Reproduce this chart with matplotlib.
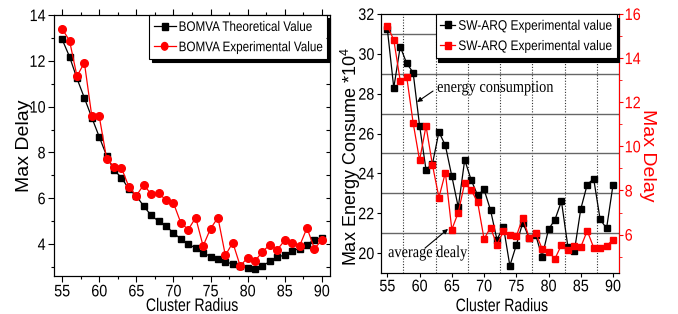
import matplotlib
matplotlib.use('Agg')
import matplotlib.pyplot as plt
from matplotlib.ticker import MultipleLocator, FixedLocator
from matplotlib.patheffects import AbstractPathEffect
from matplotlib.transforms import Affine2D
from matplotlib.text import Text
from matplotlib.lines import Line2D
from matplotlib.patches import Patch

plt.rcParams['font.family'] = ['Liberation Sans', 'DejaVu Sans']
plt.rcParams['mathtext.fontset'] = 'custom'
plt.rcParams['mathtext.rm'] = 'Liberation Sans'

radius = list(range(55, 91))

# left panel
theory = [12.94, 12.18, 11.23, 10.38, 9.52, 8.68, 7.85, 7.22, 6.90, 6.39,
          6.10, 5.65, 5.25, 4.99, 4.79, 4.48, 4.22, 4.00, 3.81, 3.62,
          3.45, 3.34, 3.20, 3.14, 3.04, 2.94, 2.92, 3.04, 3.24, 3.42,
          3.52, 3.69, 3.80, 3.97, 4.19, 4.28]
experiment = [13.40, 12.88, 11.33, 11.92, 9.58, 9.58, 7.72, 7.37, 7.32, 6.49,
              6.11, 6.59, 6.17, 6.23, 5.91, 5.79, 4.92, 4.63, 5.15, 3.91,
              4.67, 5.15, 3.50, 4.06, 3.04, 3.40, 3.26, 3.66, 3.97, 3.75,
              4.16, 4.06, 3.91, 4.70, 3.80, 4.16]

# right panel
energy = [31.24, 28.29, 30.36, 29.52, 29.06, 26.39, 24.18, 24.48, 26.08, 25.40,
          23.86, 22.30, 24.68, 23.67, 22.90, 23.19, 22.16, 20.67, 21.33, 19.36,
          20.40, 21.53, 20.75, 20.91, 19.82, 21.19, 21.68, 22.60, 20.32, 20.08,
          22.21, 23.44, 23.73, 21.69, 21.24, 23.42]
delay = [15.46, 14.82, 12.97, 13.16, 11.07, 9.37, 10.92, 9.15, 7.68, 8.81,
         6.23, 7.00, 8.34, 8.01, 7.48, 5.80, 6.32, 5.53, 6.15, 5.97,
         5.92, 6.77, 5.85, 6.08, 5.36, 5.21, 4.91, 5.53, 5.32, 5.49,
         5.44, 6.17, 5.41, 5.41, 5.49, 5.77]


class Squeeze(AbstractPathEffect):
    # narrow things horizontally (the original picture looks squashed)
    def __init__(self, sx, x0=None, anchor='center'):
        super().__init__()
        self.sx = sx
        self.x0 = x0
        self.anchor = anchor

    def draw_path(self, renderer, gc, tpath, affine, rgbFace=None):
        x0 = self.x0
        if x0 is None:
            ext = affine.transform_path(tpath).get_extents()
            x0 = {'left': ext.x0, 'right': ext.x1,
                  'center': 0.5 * (ext.x0 + ext.x1)}[self.anchor]
        t = affine + Affine2D().translate(-x0, 0).scale(self.sx, 1).translate(x0, 0)
        renderer.draw_path(gc, tpath, t, rgbFace)


def squeeze_legend(leg, x0, sx=0.84):
    pe = [Squeeze(sx, x0=x0)]
    for a in leg.findobj():
        if isinstance(a, (Text, Line2D, Patch)):
            a.set_path_effects(pe)


def squeeze_ticks(labels, anchor, sx=0.86):
    for lab in labels:
        lab.set_path_effects([Squeeze(sx, anchor=anchor)])


W = 678
fig = plt.figure(figsize=(6.78, 3.14), dpi=100)

# ---- left chart
ax = fig.add_axes([0.0796, 0.121, 0.4071, 0.831])
ax.plot(radius, theory, color='black', marker='s', markersize=5, lw=0.9,
        label='BOMVA Theoretical Value')
ax.plot(radius, experiment, color='red', marker='o', markersize=5.5, lw=0.9,
        label='BOMVA Experimental Value')
ax.set_xlim(53.9, 91.1)
ax.set_ylim(2.6, 14)
ax.xaxis.set_major_locator(MultipleLocator(5))
ax.xaxis.set_minor_locator(MultipleLocator(2.5))
ax.yaxis.set_minor_locator(MultipleLocator(1))
ax.set_yticks([4, 6, 8, 10, 12, 14])
ax.tick_params(which='both', direction='out', top=True, right=False, width=0.8)
ax.tick_params(which='major', length=4, labelsize=12, pad=2)
ax.tick_params(which='minor', length=2.5)
squeeze_ticks(ax.get_xticklabels(), 'center')
squeeze_ticks(ax.get_yticklabels(), 'right')
axr = ax.twinx()
axr.set_ylim(ax.get_ylim())
axr.yaxis.set_major_locator(MultipleLocator(1))
axr.tick_params(direction='in', length=3, labelright=False)
ax.text(-0.105, 0.5, 'Max Delay', transform=ax.transAxes, rotation=90,
        ha='center', va='center', fontsize=14)
ax.text(0.5, -0.084, 'Cluster Radius', transform=ax.transAxes,
        ha='center', va='top', fontsize=13,
        path_effects=[Squeeze(0.78, anchor='center')])
shadow_pe = [Squeeze(0.84, x0=(0.0796 + 0.99 * 0.4071) * W)]
leg = ax.legend(loc='upper right', bbox_to_anchor=(0.99, 1.0), borderaxespad=0,
                fontsize=10, frameon=True, fancybox=False, framealpha=1,
                edgecolor='black', handlelength=1.9, handletextpad=0.25,
                borderpad=0.35, labelspacing=0.45,
                shadow={'color': 'black', 'alpha': 1, 'ox': 2, 'oy': -2,
                        'path_effects': shadow_pe})
leg.get_frame().set_linewidth(0.8)
squeeze_legend(leg, shadow_pe[0].x0)
leg.set_zorder(10)

# ---- right chart
ax2 = fig.add_axes([0.5615, 0.1306, 0.3515, 0.825])
ax3 = ax2.twinx()
ax2.plot(radius, energy, color='black', marker='s', markersize=5, lw=0.9,
         label='SW-ARQ Experimental value')
ax3.plot(radius, delay, color='red', marker='s', markersize=5, lw=0.9,
         label='SW-ARQ Experimental value')
ax2.set_xlim(53.97, 90.93)
ax2.set_ylim(19, 32)
ax3.set_ylim(4.26, 16)
ax2.xaxis.set_major_locator(MultipleLocator(5))
ax2.xaxis.set_minor_locator(FixedLocator([57.5, 62.5, 67.5, 72.5, 77.5, 82.5, 87.5]))
ax2.yaxis.set_major_locator(MultipleLocator(2))
ax2.yaxis.set_minor_locator(FixedLocator([21, 23, 25, 27, 29, 31]))
ax3.yaxis.set_major_locator(MultipleLocator(2))
ax3.yaxis.set_minor_locator(MultipleLocator(1))
ax2.grid(True, which='minor', axis='x', color='#333333', lw=0.8,
         linestyle=(0, (1, 1.5)))
ax2.grid(True, which='minor', axis='y', color='#666666', lw=1.0)
ax2.tick_params(which='major', direction='out', length=3, width=0.8,
                labelsize=12, pad=1.5)
ax2.tick_params(which='minor', length=0)
ax3.tick_params(which='major', direction='out', length=3, width=0.8,
                labelsize=12, pad=1, colors='red')
ax3.tick_params(which='minor', direction='out', length=2, colors='red')
ax3.spines['right'].set_color('red')
squeeze_ticks(ax2.get_xticklabels(), 'center')
squeeze_ticks(ax2.get_yticklabels(), 'right')
squeeze_ticks(ax3.get_yticklabels(), 'left')
ax2.text(-0.124, 0.45, 'Max Energy Consume *10$^{4}$', transform=ax2.transAxes,
         rotation=90, ha='center', va='center', fontsize=13)
ax2.text(1.118, 0.455, 'Max Delay', transform=ax2.transAxes, rotation=270,
         ha='center', va='center', fontsize=14, color='red')
ax2.text(0.508, -0.097, 'Cluster Radius', transform=ax2.transAxes,
         ha='center', va='top', fontsize=13,
         path_effects=[Squeeze(0.78, anchor='center')])

ax2.text(62.7, 28.29, 'energy consumption', ha='left', va='center', fontsize=12,
         family='Liberation Serif', path_effects=[Squeeze(0.86, anchor='left')])
ax2.annotate('', xy=(59.6, 27.58), xytext=(62.08, 28.13),
             arrowprops=dict(arrowstyle='-|>', color='black', lw=0.8,
                             mutation_scale=7, shrinkA=0, shrinkB=0))
ax2.text(55.1, 20.0, 'average dealy', ha='left', va='center', fontsize=12,
         family='Liberation Serif', path_effects=[Squeeze(0.86, anchor='left')])
ax2.annotate('', xy=(64.41, 21.21), xytext=(60.84, 20.25),
             arrowprops=dict(arrowstyle='-|>', color='black', lw=0.8,
                             mutation_scale=7, shrinkA=0, shrinkB=0))

h2, l2 = ax2.get_legend_handles_labels()
h3, l3 = ax3.get_legend_handles_labels()
shadow_pe2 = [Squeeze(0.86, x0=(0.5615 + 0.99 * 0.3515) * W)]
leg2 = ax3.legend(h2 + h3, l2 + l3, loc='upper right', bbox_to_anchor=(0.99, 1.0),
                  borderaxespad=0, fontsize=10,
                  frameon=True, fancybox=False, edgecolor='black',
                  handlelength=1.3, handletextpad=0.25, borderpad=0.35,
                  labelspacing=0.45, framealpha=1,
                  shadow={'color': 'black', 'alpha': 1, 'ox': 2, 'oy': -3,
                          'path_effects': shadow_pe2})
leg2.get_frame().set_linewidth(0.8)
squeeze_legend(leg2, shadow_pe2[0].x0, sx=0.86)

fig.savefig('out.png', dpi=100)
